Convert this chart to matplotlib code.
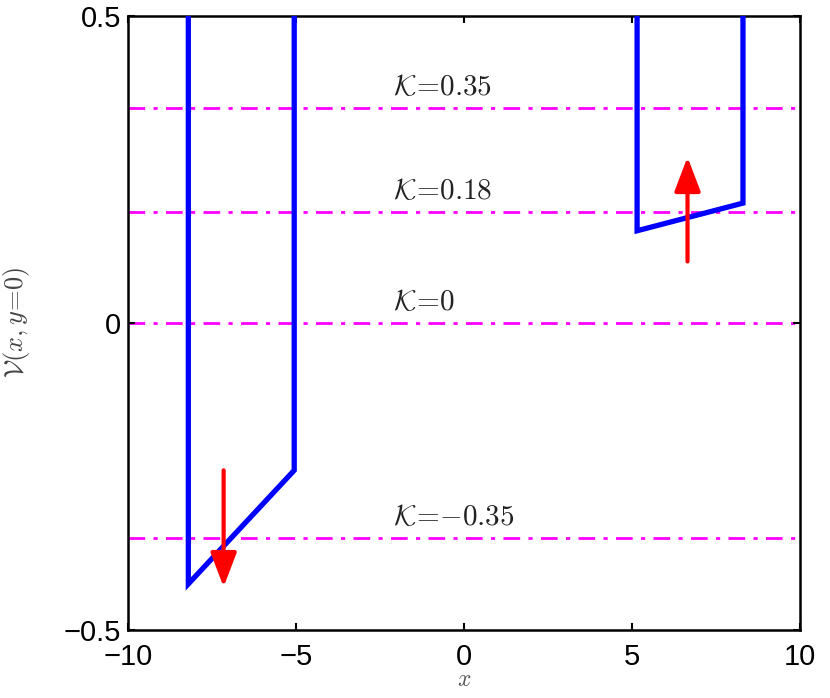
import matplotlib
matplotlib.use("Agg")
import matplotlib.pyplot as plt

plt.rcParams['font.family'] = ['Liberation Sans', 'DejaVu Sans']
plt.rcParams['mathtext.fontset'] = 'cm'

# Left well (potential V(x, y=0)) polyline
left_x = [-8.2, -8.2, -5.05, -5.05]
left_v = [0.6, -0.425, -0.24, 0.6]
# Right well polyline
right_x = [5.15, 5.15, 8.3, 8.3]
right_v = [0.6, 0.15, 0.195, 0.6]

# Energy levels K
k_levels = [0.35, 0.18, 0.0, -0.35]
k_labels = ['0.35', '0.18', '0', '{-}0.35']

# Arrows: (x, y_start, y_end)
arrows_x = [-7.15, 6.65]
arrows_y0 = [-0.24, 0.10]
arrows_y1 = [-0.43, 0.27]

xticks = [-10, -5, 0, 5, 10]
yticks = [-0.5, 0, 0.5]

fig = plt.figure(figsize=(8.3, 6.98), dpi=100)
ax = fig.add_axes([0.154, 0.0974, 0.81, 0.88])

for k, lab in zip(k_levels, k_labels):
    ax.plot([-10, 10], [k, k], color=(1, 0, 1), lw=2.0,
            dashes=(6, 3, 1.5, 3), zorder=1)
    ax.text(-2.1, k + 0.012, r'$\mathcal{K}\!=\!' + lab + '$',
            fontsize=21, ha='left', va='bottom', color='#222222')

ax.plot(left_x, left_v, color='blue', lw=3.8, zorder=3, solid_joinstyle='miter')
ax.plot(right_x, right_v, color='blue', lw=3.8, zorder=3, solid_joinstyle='miter')

for xa, y0, y1 in zip(arrows_x, arrows_y0, arrows_y1):
    ax.annotate('', xy=(xa, y1), xytext=(xa, y0),
                arrowprops=dict(arrowstyle='-|>,head_length=2.1,head_width=0.8',
                                color='red', lw=3.0, shrinkA=0, shrinkB=0),
                zorder=4)

ax.set_xlim(-10, 10)
ax.set_ylim(-0.5, 0.5)
ax.set_xticks(xticks)
ax.set_yticks(yticks)
ax.set_xticklabels(['\u221210', '\u22125', '0', '5', '10'])
ax.set_yticklabels(['\u22120.5', '0', '0.5'])
ax.tick_params(direction='in', length=5, width=1.5, top=True, right=True,
               labelsize=21, colors='black')
ax.tick_params(axis='x', pad=9)
ax.tick_params(axis='y', pad=5)
for s in ax.spines.values():
    s.set_linewidth(1.8)

ax.set_xlabel(r'$x$', fontsize=17, color='#555555')
ax.xaxis.set_label_coords(0.5, -0.064)
ax.set_ylabel(r'$\mathcal{V}(x,y\!=\!0)$', fontsize=19, color='#444444')
ax.yaxis.set_label_coords(-0.143, 0.5)

fig.savefig('out.png', dpi=100)
